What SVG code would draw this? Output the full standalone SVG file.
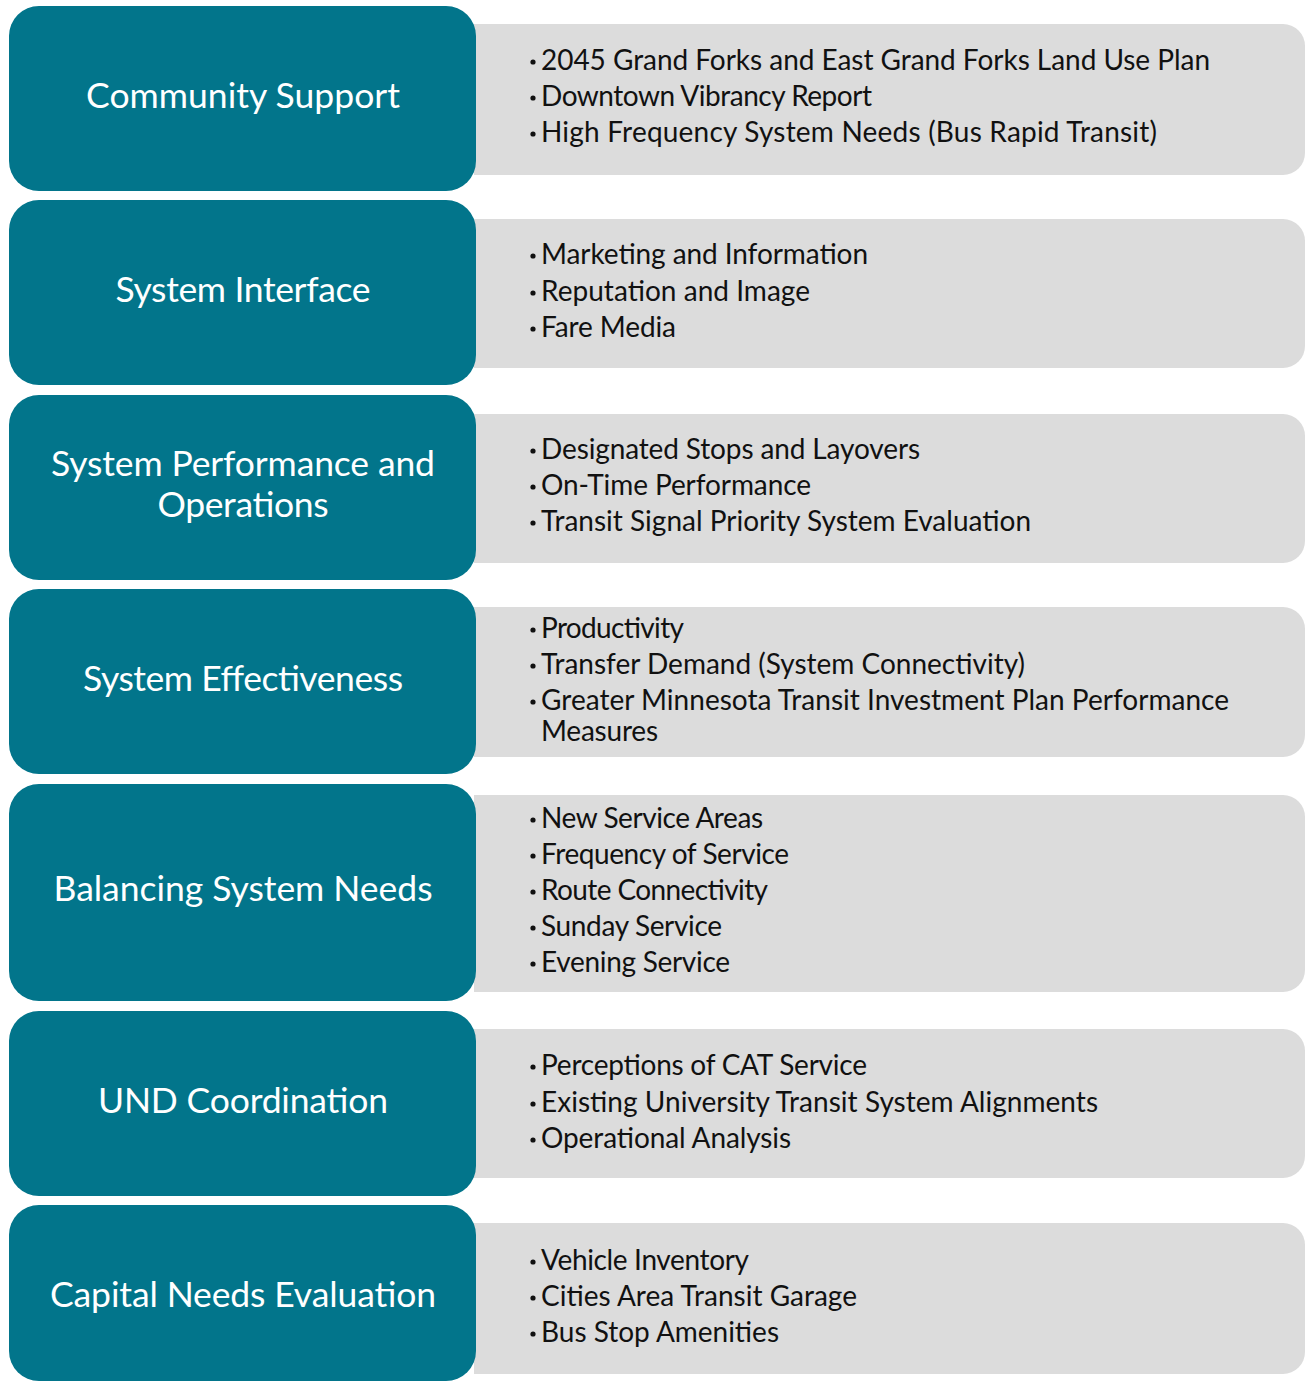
<svg xmlns="http://www.w3.org/2000/svg" width="1306" height="1381" viewBox="0 0 1306 1381">
  <style>
    .head { fill: #02758b; }
    .body { fill: #dcdcdc; }
    .dot { fill: #111111; }
    .hl { font-family: Lato, "Open Sans", "Liberation Sans", sans-serif; font-size: 35.5px; fill: #ffffff; text-anchor: middle; }
    .it { font-family: Lato, "Open Sans", "Liberation Sans", sans-serif; font-size: 28px; fill: #111111; }
  </style>
  <rect width="1306" height="1381" fill="#ffffff"/>

  <!-- Row 1 -->
  <g id="community-support">
    <path class="body" d="M474,24 H1283 A22,22 0 0 1 1305,46 V153 A22,22 0 0 1 1283,175 H474 Z"/>
    <rect class="head" x="9" y="6" width="467" height="185" rx="30"/>
    <text class="hl" x="243" y="108" textLength="314">Community Support</text>
    <circle class="dot" cx="533" cy="62" r="2.6"/><text class="it" x="541" y="70" textLength="669">2045 Grand Forks and East Grand Forks Land Use Plan</text>
    <circle class="dot" cx="533" cy="98" r="2.6"/><text class="it" x="541" y="106" textLength="331">Downtown Vibrancy Report</text>
    <circle class="dot" cx="533" cy="134" r="2.6"/><text class="it" x="541" y="142" textLength="616">High Frequency System Needs (Bus Rapid Transit)</text>
  </g>

  <!-- Row 2 -->
  <g id="system-interface">
    <path class="body" d="M474,219 H1283 A22,22 0 0 1 1305,241 V346 A22,22 0 0 1 1283,368 H474 Z"/>
    <rect class="head" x="9" y="200" width="467" height="185" rx="30"/>
    <text class="hl" x="243" y="302" textLength="255">System Interface</text>
    <circle class="dot" cx="533" cy="256" r="2.6"/><text class="it" x="541" y="264" textLength="327">Marketing and Information</text>
    <circle class="dot" cx="533" cy="293" r="2.6"/><text class="it" x="541" y="301" textLength="269">Reputation and Image</text>
    <circle class="dot" cx="533" cy="329" r="2.6"/><text class="it" x="541" y="337" textLength="135">Fare Media</text>
  </g>

  <!-- Row 3 -->
  <g id="system-performance">
    <path class="body" d="M474,414 H1283 A22,22 0 0 1 1305,436 V541 A22,22 0 0 1 1283,563 H474 Z"/>
    <rect class="head" x="9" y="395" width="467" height="185" rx="30"/>
    <text class="hl" x="243" y="476" textLength="384">System Performance and</text>
    <text class="hl" x="243" y="517" textLength="171">Operations</text>
    <circle class="dot" cx="533" cy="451" r="2.6"/><text class="it" x="541" y="459" textLength="379">Designated Stops and Layovers</text>
    <circle class="dot" cx="533" cy="487" r="2.6"/><text class="it" x="541" y="495" textLength="270">On-Time Performance</text>
    <circle class="dot" cx="533" cy="523" r="2.6"/><text class="it" x="541" y="531" textLength="490">Transit Signal Priority System Evaluation</text>
  </g>

  <!-- Row 4 -->
  <g id="system-effectiveness">
    <path class="body" d="M474,607 H1283 A22,22 0 0 1 1305,629 V735 A22,22 0 0 1 1283,757 H474 Z"/>
    <rect class="head" x="9" y="589" width="467" height="185" rx="30"/>
    <text class="hl" x="243" y="691" textLength="320">System Effectiveness</text>
    <circle class="dot" cx="533" cy="630" r="2.6"/><text class="it" x="541" y="638" textLength="143">Productivity</text>
    <circle class="dot" cx="533" cy="666" r="2.6"/><text class="it" x="541" y="674" textLength="484">Transfer Demand (System Connectivity)</text>
    <circle class="dot" cx="533" cy="702" r="2.6"/><text class="it" x="541" y="710" textLength="688">Greater Minnesota Transit Investment Plan Performance</text>
    <text class="it" x="541" y="741" textLength="117">Measures</text>
  </g>

  <!-- Row 5 -->
  <g id="balancing-needs">
    <path class="body" d="M474,795 H1283 A22,22 0 0 1 1305,817 V970 A22,22 0 0 1 1283,992 H474 Z"/>
    <rect class="head" x="9" y="784" width="467" height="217" rx="30"/>
    <text class="hl" x="243" y="901" textLength="379">Balancing System Needs</text>
    <circle class="dot" cx="533" cy="820" r="2.6"/><text class="it" x="541" y="828" textLength="222">New Service Areas</text>
    <circle class="dot" cx="533" cy="856" r="2.6"/><text class="it" x="541" y="864" textLength="248">Frequency of Service</text>
    <circle class="dot" cx="533" cy="892" r="2.6"/><text class="it" x="541" y="900" textLength="227">Route Connectivity</text>
    <circle class="dot" cx="533" cy="928" r="2.6"/><text class="it" x="541" y="936" textLength="181">Sunday Service</text>
    <circle class="dot" cx="533" cy="964" r="2.6"/><text class="it" x="541" y="972" textLength="189">Evening Service</text>
  </g>

  <!-- Row 6 -->
  <g id="und-coordination">
    <path class="body" d="M474,1029 H1283 A22,22 0 0 1 1305,1051 V1156 A22,22 0 0 1 1283,1178 H474 Z"/>
    <rect class="head" x="9" y="1011" width="467" height="185" rx="30"/>
    <text class="hl" x="243" y="1113" textLength="290">UND Coordination</text>
    <circle class="dot" cx="533" cy="1067" r="2.6"/><text class="it" x="541" y="1075" textLength="326">Perceptions of CAT Service</text>
    <circle class="dot" cx="533" cy="1104" r="2.6"/><text class="it" x="541" y="1112" textLength="557">Existing University Transit System Alignments</text>
    <circle class="dot" cx="533" cy="1140" r="2.6"/><text class="it" x="541" y="1148" textLength="250">Operational Analysis</text>
  </g>

  <!-- Row 7 -->
  <g id="capital-needs">
    <path class="body" d="M474,1223 H1283 A22,22 0 0 1 1305,1245 V1352 A22,22 0 0 1 1283,1374 H474 Z"/>
    <rect class="head" x="9" y="1205" width="467" height="176" rx="30"/>
    <text class="hl" x="243" y="1307" textLength="386">Capital Needs Evaluation</text>
    <circle class="dot" cx="533" cy="1262" r="2.6"/><text class="it" x="541" y="1270" textLength="208">Vehicle Inventory</text>
    <circle class="dot" cx="533" cy="1298" r="2.6"/><text class="it" x="541" y="1306" textLength="316">Cities Area Transit Garage</text>
    <circle class="dot" cx="533" cy="1334" r="2.6"/><text class="it" x="541" y="1342" textLength="238">Bus Stop Amenities</text>
  </g>

  <g id="connectors"/>
</svg>
